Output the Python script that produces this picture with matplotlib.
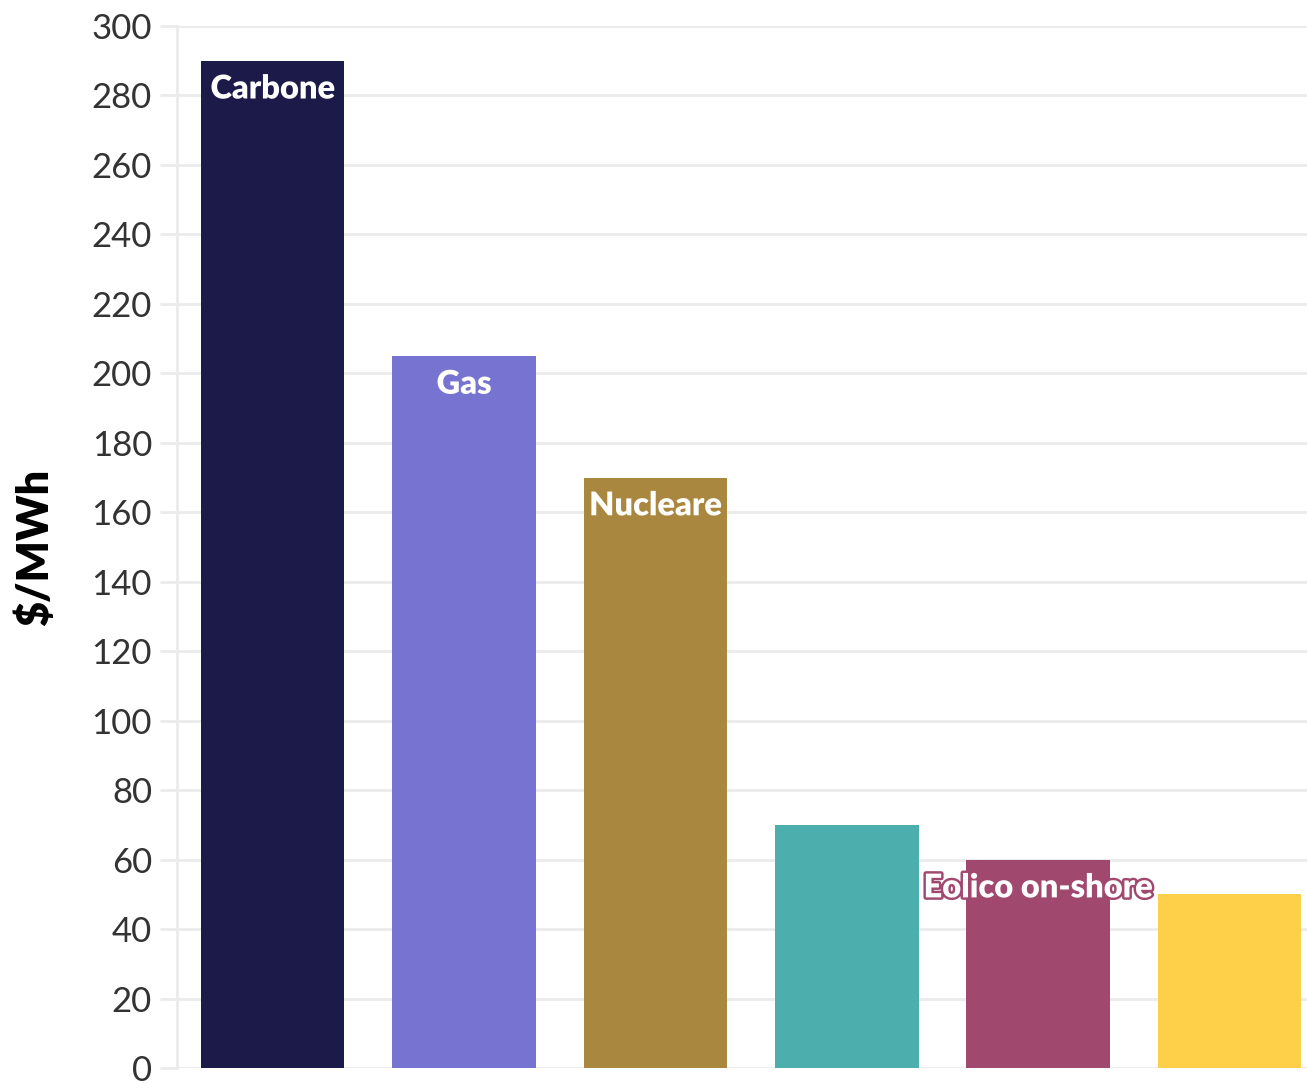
import matplotlib
matplotlib.use("Agg")
import matplotlib.pyplot as plt
import matplotlib.patheffects as pe

plt.rcParams['font.family'] = ['Lato', 'DejaVu Sans']

# dati (LCOE, $/MWh)
fonti = ['Carbone', 'Gas', 'Nucleare', 'Solare', 'Eolico on-shore', 'Idroelettrico']
valori = [290, 205, 170, 70, 60, 50]
etichette = ['Carbone', 'Gas', 'Nucleare', '', 'Eolico on-shore', '']
colori = ['#1b1a48', '#7674d0', '#aa873e', '#4daeae', '#a1486f', '#fecf48']
yticks = list(range(0, 301, 20))

fig = plt.figure(figsize=(13.07, 10.83), dpi=100)
ax = fig.add_axes([177 / 1307, 15 / 1083, 1 - 177 / 1307, (1068 - 26) / 1083])

x = list(range(len(valori)))
ax.bar(x, valori, width=0.75, color=colori, zorder=3)

for xi, v, lab, c in zip(x, valori, etichette, colori):
    if not lab:
        continue
    ax.annotate(lab, (xi, v), xytext=(0, -20), textcoords='offset points',
                ha='center', va='center', color='white', fontsize=23.5,
                fontweight='heavy', zorder=5,
                path_effects=[pe.withStroke(linewidth=3.5, foreground=c)])

ax.set_xlim(-0.5, 5.405)
ax.set_ylim(0, 300)
ax.set_yticks(yticks)
ax.set_xticks([])
ax.yaxis.grid(True, color='#ebebeb', linewidth=2, zorder=0)
ax.set_axisbelow(True)

for s in ['top', 'right', 'bottom']:
    ax.spines[s].set_visible(False)
ax.spines['left'].set_color('#ebebeb')
ax.spines['left'].set_linewidth(2)
ax.tick_params(axis='y', length=12, width=2, color='#ebebeb',
               labelsize=25, labelcolor='#333333', pad=6)

ax.set_ylabel('$/MWh', fontsize=31, fontweight='heavy', color='black', labelpad=26)

fig.savefig('out.png', dpi=100)
